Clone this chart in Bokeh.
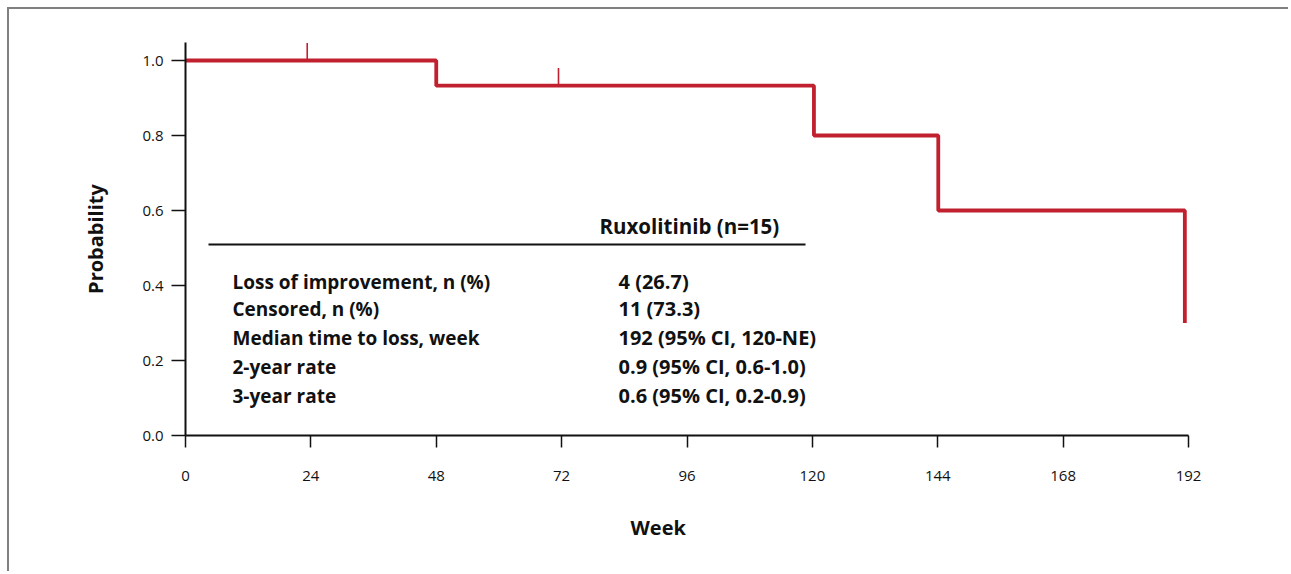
from bokeh.plotting import figure
from bokeh.models import Label, BoxAnnotation, Range1d, FixedTicker, Title
from bokeh.embed import file_html
from bokeh.resources import INLINE

# ---- data ----
step_weeks = [0, 48, 120.3, 144.1, 191.3]
step_prob = [1.0, 0.933, 0.8, 0.6, 0.3]
censor_weeks = [23.3, 71.4]
censor_prob = [1.0, 0.933]
x_ticks = [0, 24, 48, 72, 96, 120, 144, 168, 192]
y_ticks = [0.0, 0.2, 0.4, 0.6, 0.8, 1.0]
y_tick_labels = {0.0: "0.0", 0.2: "0.2", 0.4: "0.4", 0.6: "0.6", 0.8: "0.8", 1.0: "1.0"}

table_header = "Ruxolitinib (n=15)"
row_labels = ["Loss of improvement, n (%)", "Censored, n (%)", "Median time to loss, week",
              "2-year rate", "3-year rate"]
row_values = ["4 (26.7)", "11 (73.3)", "192 (95% CI, 120-NE)",
              "0.9 (95% CI, 0.6-1.0)", "0.6 (95% CI, 0.2-0.9)"]

# ---- styling ----
RED = "#C1202F"
FONT = "Open Sans"
INK = "#111111"
mark_len = 0.047

p = figure(width=1281, height=564, output_backend="svg", toolbar_location=None,
           x_range=Range1d(0, 192), y_range=Range1d(0, 1.048),
           min_border_left=176, min_border_right=102, min_border_top=33, min_border_bottom=138)
p.styles = {"border-top": "2px solid #808080", "border-left": "2px solid #808080",
            "margin-left": "7px", "margin-top": "7px"}
p.outline_line_color = None
p.grid.visible = False
p.background_fill_color = "white"
p.border_fill_color = "white"

p.step(step_weeks, step_prob, mode="after", line_color=RED, line_width=3.8)
p.segment(x0=censor_weeks, y0=censor_prob, x1=censor_weeks,
          y1=[v + mark_len for v in censor_prob], line_color=RED, line_width=1.6)

for ax in (p.xaxis[0], p.yaxis[0]):
    ax.axis_line_color = INK
    ax.axis_line_width = 2
    ax.major_tick_line_color = INK
    ax.major_tick_line_width = 1.5
    ax.major_tick_in = 0
    ax.minor_tick_line_color = None
    ax.major_label_text_font = FONT
    ax.major_label_text_font_size = "15px"
    ax.major_label_text_color = INK

p.xaxis.ticker = FixedTicker(ticks=x_ticks)
p.xaxis.major_tick_out = 12
p.xaxis.major_label_standoff = 23

p.yaxis.ticker = FixedTicker(ticks=y_ticks)
p.yaxis.major_label_overrides = y_tick_labels
p.yaxis.major_tick_out = 14
p.yaxis.major_label_standoff = 8
p.yaxis.axis_label = "Probability"
p.yaxis.axis_label_text_font = FONT
p.yaxis.axis_label_text_font_style = "bold"
p.yaxis.axis_label_text_font_size = "20px"
p.yaxis.axis_label_text_color = INK
p.yaxis.axis_label_standoff = 30

# x-axis title (placed left of centre as in the reference)
p.add_layout(Title(text="Week", align="left", offset=445, vertical_align="top",
                   standoff=60, text_font=FONT, text_font_style="bold",
                   text_font_size="20px", text_color=INK), "below")

# summary table
p.add_layout(Label(x=414, y=210, x_units="screen", y_units="screen", text=table_header,
                   text_font=FONT, text_font_style="bold", text_font_size="20.5px",
                   text_color=INK, text_align="left", text_baseline="middle"))
p.add_layout(BoxAnnotation(left=23, right=620, bottom=190, top=192,
                           left_units="screen", right_units="screen",
                           bottom_units="screen", top_units="screen",
                           fill_color=INK, fill_alpha=1, line_color=None))
row_y = [154, 127, 98, 69, 40]
for lab, val, yy in zip(row_labels, row_values, row_y):
    for txt, xx, fs in ((lab, 47, "19px"), (val, 433, "20px")):
        p.add_layout(Label(x=xx, y=yy, x_units="screen", y_units="screen", text=txt,
                           text_font=FONT, text_font_style="bold", text_font_size=fs,
                           text_color=INK, text_align="left", text_baseline="middle"))

open("out.html", "w").write(file_html(p, INLINE))
